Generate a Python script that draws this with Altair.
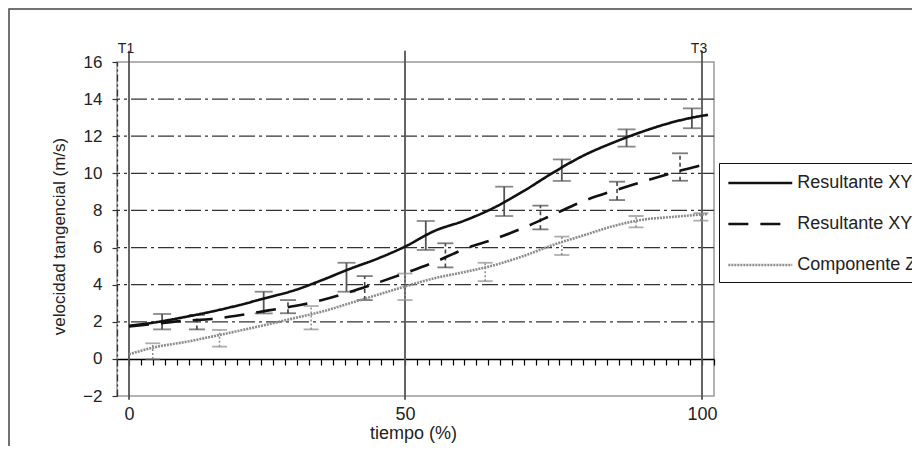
import altair as alt
import pandas as pd

FONT = "Liberation Sans"

# ---- data ----
series_names = ["Resultante XYZ", "Resultante XY", "Componente Z"]
t_pct = [0, 5, 10, 15, 20, 25, 30, 35, 40, 45, 50, 55, 60, 65, 70, 75, 80, 85, 90, 95, 100, 101]
v_xyz = [1.78, 1.98, 2.25, 2.55, 2.9, 3.3, 3.7, 4.25, 4.85, 5.4, 6.05, 6.9, 7.45, 8.15, 9.05, 10.05, 10.95, 11.65, 12.25, 12.75, 13.1, 13.15]
v_xy = [1.75, 1.9, 2.05, 2.15, 2.35, 2.6, 2.85, 3.17, 3.6, 4.1, 4.62, 5.22, 5.92, 6.45, 7.07, 7.78, 8.5, 9.05, 9.54, 10.03, 10.45, 10.55]
v_z = [0.25, 0.65, 0.9, 1.2, 1.52, 1.85, 2.2, 2.55, 3.0, 3.45, 3.9, 4.35, 4.68, 5.05, 5.55, 6.15, 6.65, 7.15, 7.5, 7.65, 7.78, 7.8]

xyz_err_x = [6.0, 24.4, 39.4, 53.5, 66.7, 76.4, 87.3, 98.3]
xyz_err_lo = [1.59, 2.45, 3.62, 5.87, 7.7, 9.59, 11.44, 12.43]
xyz_err_hi = [2.42, 3.62, 5.18, 7.43, 9.28, 10.75, 12.37, 13.5]

xy_err_x = [12.3, 28.8, 42.7, 56.8, 72.8, 85.7, 96.3]
xy_err_lo = [1.59, 2.46, 3.17, 4.93, 6.98, 8.56, 9.6]
xy_err_hi = [2.37, 3.17, 4.46, 6.23, 8.26, 9.55, 11.08]

z_err_x = [4.3, 16.4, 33.0, 50.0, 63.5, 76.4, 88.9, 99.8]
z_err_lo = [0.0, 0.66, 1.59, 3.17, 4.19, 5.6, 7.09, 7.45]
z_err_hi = [0.84, 1.56, 2.85, 4.6, 5.18, 6.59, 7.7, 7.85]

event_x = [0, 50, 100]
event_top = 16.6
event_bottom = -2.2
event_label_x = [0, 100]
event_labels = ["T1", "T3"]

y_grid = [2, 4, 6, 8, 10, 12, 14]
y_ticks = [-2, 0, 2, 4, 6, 8, 10, 12, 14, 16]
x_labels = [0, 50, 100]
x_minor = [round(k * 50 / 23, 4) for k in range(24)] + [50 + 2 * k for k in range(1, 27)]

# ---- tables ----
curves = pd.DataFrame({
    "t": t_pct * 3,
    "v": v_xyz + v_xy + v_z,
    "serie": [series_names[0]] * len(t_pct) + [series_names[1]] * len(t_pct) + [series_names[2]] * len(t_pct),
})

def err_df(xs, lo, hi, name):
    return pd.DataFrame({"t": xs, "lo": lo, "hi": hi, "serie": [name] * len(xs)})

err_xyz = err_df(xyz_err_x, xyz_err_lo, xyz_err_hi, series_names[0])
err_xy = err_df(xy_err_x, xy_err_lo, xy_err_hi, series_names[1])
err_z = err_df(z_err_x, z_err_lo, z_err_hi, series_names[2])

events = pd.DataFrame({"t": event_x, "top": [event_top] * 3, "bot": [event_bottom] * 3})
event_text = pd.DataFrame({"t": event_label_x, "lab": event_labels, "y": [16.5, 16.5]})
grid = pd.DataFrame({"g": y_grid})

# ---- scales ----
xs = alt.Scale(domain=[-1, 0, 50, 100, 102], range=[0, 12, 288, 585, 597], nice=False, zero=False)
ys = alt.Scale(domain=[-2, 16], nice=False, zero=False)

y_axis = alt.Axis(values=y_ticks, title="velocidad tangencial (m/s)", grid=False, orient="left",
                  labelFont=FONT, labelFontSize=17, labelColor="#222", labelPadding=10,
                  tickSize=5, tickColor="#333", tickWidth=1.2,
                  domainColor="#333", domainWidth=1.3, domainDash=[7, 3, 2, 3],
                  titleFont=FONT, titleFontSize=17, titleFontWeight="normal", titleColor="#222",
                  titleAngle=270, titleX=-49, titleY=174, titleAlign="center", titleBaseline="bottom")

def Y(field):
    return alt.Y(field, type="quantitative", scale=ys, axis=y_axis)

NOX = dict(scale=xs, axis=None)

frame = alt.Chart(pd.DataFrame({"a": [0]})).mark_rect(filled=False, stroke="#444", strokeWidth=1.5).encode(
    x=alt.value(-108), x2=alt.value(1200), y=alt.value(-53), y2=alt.value(1200)
)

gridlines = alt.Chart(grid).mark_rule(color="#333", strokeWidth=1.3, strokeDash=[16, 4, 3, 4]).encode(
    y=Y("g")
)

# event lines carry the minor-tick axis sitting on y = 0
tick_axis = alt.Axis(values=x_minor, labels=False, title=None, grid=False, offset=-37, orient="bottom",
                     tickSize=6, tickColor="black", tickWidth=1.2,
                     domainColor="black", domainWidth=1.6)
ev_lines = alt.Chart(events).mark_rule(color="#555", strokeWidth=1.8).encode(
    x=alt.X("t:Q", scale=xs, axis=tick_axis),
    y=Y("top"), y2="bot"
)

def err_layer(df, color, dash, width=1.8, cap=16):
    stem_kwargs = dict(color=color, strokeWidth=width)
    if dash:
        stem_kwargs["strokeDash"] = dash
    stem = alt.Chart(df).mark_rule(**stem_kwargs).encode(
        x=alt.X("t:Q", **NOX), y=Y("lo"), y2="hi")
    top = alt.Chart(df).mark_tick(orient="horizontal", size=cap, thickness=1.8, color=color).encode(
        x=alt.X("t:Q", **NOX), y=Y("hi"))
    bot = alt.Chart(df).mark_tick(orient="horizontal", size=cap, thickness=1.8, color=color).encode(
        x=alt.X("t:Q", **NOX), y=Y("lo"))
    return [stem, top, bot]

label_axis = alt.Axis(values=x_labels, ticks=False, tickSize=0, domain=False, grid=False, orient="bottom",
                      labelFont=FONT, labelFontSize=18, labelColor="#222", labelPadding=9,
                      title="tiempo (%)", titleFont=FONT, titleFontSize=18, titleFontWeight="normal",
                      titleColor="#222", titleX=296, titleY=28, titleAlign="center", titleBaseline="top")

# legend symbol: a horizontal stroke three times wider than its nominal size
LEG_SYM = 21.3
legend_kw = dict(title=None, orient="none", legendX=602, legendY=101)
legend_main = alt.Legend(strokeColor="#111", padding=8,
                         symbolType="M-3,0H3", symbolSize=LEG_SYM * LEG_SYM, symbolOffset=LEG_SYM,
                         labelFont=FONT, labelFontSize=18, labelColor="#222",
                         labelOffset=25, rowPadding=20, labelLimit=400, **legend_kw)

lines = alt.Chart(curves).mark_line(interpolate="monotone").encode(
    x=alt.X("t:Q", scale=xs, axis=label_axis),
    y=Y("v"),
    color=alt.Color("serie:N", sort=series_names,
                    scale=alt.Scale(domain=series_names, range=["#111", "#111", "#8c8c8c"]),
                    legend=legend_main),
    strokeDash=alt.StrokeDash("serie:N", sort=series_names,
                              scale=alt.Scale(domain=series_names, range=[[1, 0], [20, 12], [2, 1]]),
                              legend=legend_main),
    strokeWidth=alt.StrokeWidth("serie:N", sort=series_names,
                                scale=alt.Scale(domain=series_names, range=[2.6, 2.6, 2.0]),
                                legend=legend_main),
)

ev_text = alt.Chart(event_text).mark_text(font=FONT, fontSize=14, color="#222", baseline="alphabetic",
                                          align="center", dx=-3).encode(
    x=alt.X("t:Q", **NOX), y=Y("y"), text="lab:N"
)

layers = [frame, gridlines, ev_lines]
layers += err_layer(err_z, "#8c8c8c", [2, 2], width=1.5, cap=15)
layers += err_layer(err_xy, "#444", [4, 3], width=1.6, cap=16)
layers += err_layer(err_xyz, "#555", None, width=1.8, cap=18)
layers += [lines, ev_text]

chart = alt.layer(*layers).resolve_axis(x="independent").properties(
    width=597, height=334,
    autosize=alt.AutoSizeParams(type="none"),
    padding={"left": 109, "top": 54, "right": 198, "bottom": 50},
    background="white",
).configure_view(stroke="#999", strokeWidth=1.5)

chart.save("out.html", embed_options={"renderer": "svg", "actions": False})
